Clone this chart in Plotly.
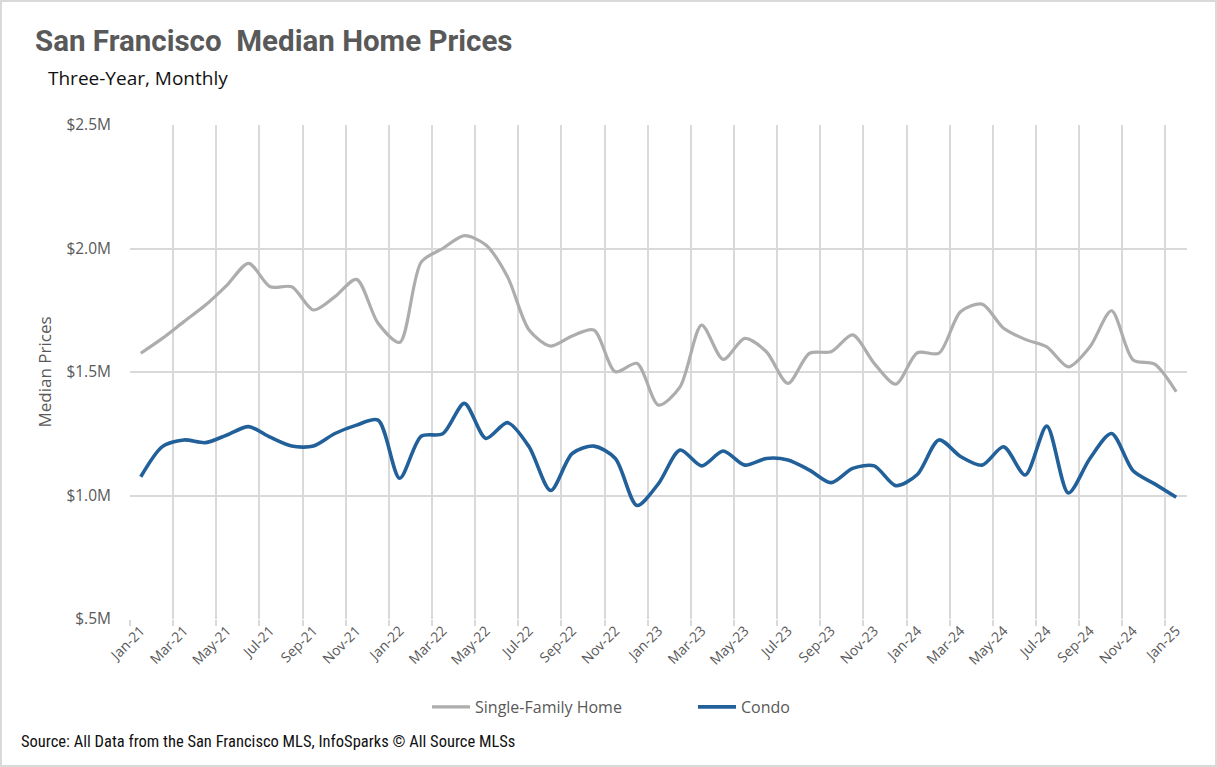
import plotly.graph_objects as go

# monthly labels, Jan-21 .. Jan-25
months = ["Jan-21", "Feb-21", "Mar-21", "Apr-21", "May-21", "Jun-21", "Jul-21", "Aug-21",
          "Sep-21", "Oct-21", "Nov-21", "Dec-21", "Jan-22", "Feb-22", "Mar-22", "Apr-22",
          "May-22", "Jun-22", "Jul-22", "Aug-22", "Sep-22", "Oct-22", "Nov-22", "Dec-22",
          "Jan-23", "Feb-23", "Mar-23", "Apr-23", "May-23", "Jun-23", "Jul-23", "Aug-23",
          "Sep-23", "Oct-23", "Nov-23", "Dec-23", "Jan-24", "Feb-24", "Mar-24", "Apr-24",
          "May-24", "Jun-24", "Jul-24", "Aug-24", "Sep-24", "Oct-24", "Nov-24", "Dec-24",
          "Jan-25"]

# median prices, $M
single_family = [1.576, 1.636, 1.704, 1.771, 1.852, 1.940, 1.845, 1.845, 1.751, 1.805,
                 1.875, 1.697, 1.620, 1.945, 2.000, 2.052, 2.014, 1.886, 1.670, 1.605,
                 1.646, 1.670, 1.501, 1.535, 1.366, 1.440, 1.690, 1.551, 1.636, 1.582,
                 1.454, 1.576, 1.582, 1.650, 1.535, 1.451, 1.578, 1.576, 1.744, 1.775,
                 1.677, 1.632, 1.602, 1.521, 1.602, 1.748, 1.549, 1.532, 1.420]
condo = [1.076, 1.198, 1.225, 1.214, 1.245, 1.279, 1.236, 1.200, 1.200, 1.251,
         1.285, 1.305, 1.070, 1.240, 1.250, 1.373, 1.231, 1.295, 1.197, 1.020,
         1.170, 1.200, 1.150, 0.960, 1.048, 1.184, 1.120, 1.180, 1.123, 1.150,
         1.144, 1.103, 1.052, 1.110, 1.120, 1.040, 1.085, 1.225, 1.158, 1.123,
         1.197, 1.083, 1.281, 1.010, 1.150, 1.251, 1.100, 1.047, 0.993]

y_ticks = [0.5, 1.0, 1.5, 2.0, 2.5]
y_labels = ["$.5M", "$1.0M", "$1.5M", "$2.0M", "$2.5M"]

W, H = 1217, 767
ML, MR, MT, MB = 130, 30, 125, 148
pw, ph = W - ML - MR, H - MT - MB

grey_txt = "#595959"
grid = "#d9d9d9"
body_font = "Open Sans, Noto Sans, sans-serif"
narrow_font = "Liberation Sans Narrow, Roboto Condensed, Roboto, sans-serif"


def py(px_from_top):
    # pixel row -> paper y
    return (H - MB - px_from_top) / ph


def px(px_from_left):
    return (px_from_left - ML) / pw


idx = list(range(len(months)))

fig = go.Figure()
fig.add_trace(go.Scatter(x=idx, y=single_family, name="Single-Family Home", mode="lines",
                         line=dict(color="#adadad", width=3.2, shape="spline", smoothing=0.8)))
fig.add_trace(go.Scatter(x=idx, y=condo, name="Condo", mode="lines",
                         line=dict(color="#22609a", width=3.6, shape="spline", smoothing=0.8)))

fig.update_layout(
    width=W, height=H,
    margin=dict(l=ML, r=MR, t=MT, b=MB, autoexpand=False),
    paper_bgcolor="white", plot_bgcolor="white",
    font=dict(family=body_font, color=grey_txt, size=14),
    title=dict(text="<b>San Francisco  Median Home Prices</b>", xref="container", yref="container",
               x=35 / W, y=1 - 41 / H, xanchor="left", yanchor="middle",
               font=dict(family="Roboto, sans-serif", size=29.5, color="#595959")),
    showlegend=True,
    legend=dict(orientation="h", x=px(427), xanchor="left", y=py(707), yanchor="middle",
                itemwidth=38, entrywidth=213, font=dict(size=16, color=grey_txt)),
    hovermode=False,
)

fig.update_xaxes(
    range=[-0.5, len(months) - 0.5], automargin=False,
    tickmode="array", tickvals=idx[::2], ticktext=months[::2], tickangle=-45,
    showgrid=False, zeroline=False, showline=False, ticks="",
    tickfont=dict(size=14, color=grey_txt),
    minor=dict(tick0=-0.5, dtick=2, showgrid=True, gridcolor=grid, gridwidth=1.5,
               ticks="outside", ticklen=6, tickcolor=grid, tickwidth=1.5),
)
fig.update_yaxes(
    range=[0.5, 2.5], tickmode="array", tickvals=y_ticks, ticktext=y_labels, automargin=False,
    showgrid=True, gridcolor=grid, gridwidth=1.5, zeroline=False, showline=False,
    tickfont=dict(size=15.5, color=grey_txt), ticks="", ticklabelstandoff=18,
    title=dict(text="Median Prices", font=dict(size=17, color=grey_txt), standoff=10),
)

fig.add_annotation(text="Three-Year, Monthly", xref="paper", yref="paper",
                   x=px(46), y=py(78), xanchor="left", yanchor="middle",
                   showarrow=False, font=dict(family=body_font, size=19, color="#111111"))
fig.add_annotation(text="Source: All Data from the San Francisco MLS, InfoSparks © All Source MLSs",
                   xref="paper", yref="paper", x=px(19), y=py(741),
                   xanchor="left", yanchor="middle", showarrow=False,
                   font=dict(family=narrow_font, size=16.5, color="#111111"))

# outer chart border
fig.add_shape(type="rect", xref="paper", yref="paper",
              x0=px(1), x1=px(W - 1), y0=py(H - 1), y1=py(1),
              line=dict(color="#d9d9d9", width=2))

fig.write_html("out.html", config={"displayModeBar": False},
               post_script="document.body.style.margin='0';")
